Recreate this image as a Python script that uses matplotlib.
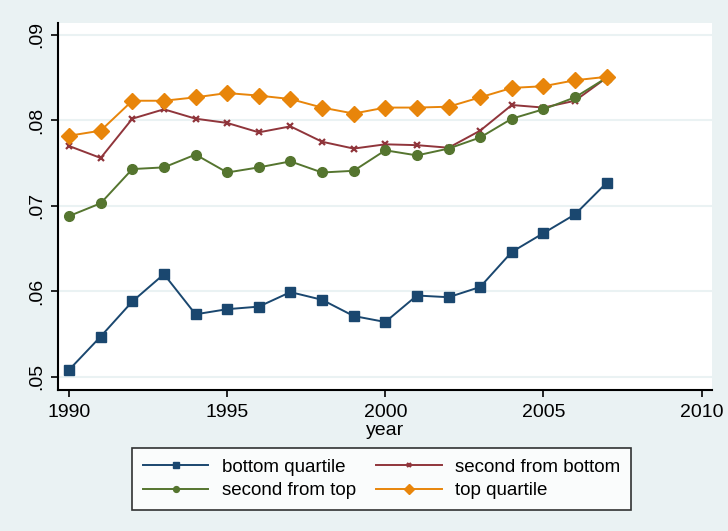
import matplotlib
matplotlib.use("Agg")
import matplotlib.pyplot as plt

years = list(range(1990, 2008))

bottom_quartile = [0.0508, 0.0547, 0.0588, 0.0620, 0.0573, 0.0579, 0.0582, 0.0599, 0.0590,
                   0.0571, 0.0564, 0.0595, 0.0593, 0.0605, 0.0646, 0.0668, 0.0690, 0.0727]
second_bottom = [0.0770, 0.0756, 0.0802, 0.0813, 0.0802, 0.0797, 0.0786, 0.0793, 0.0775,
                 0.0767, 0.0772, 0.0771, 0.0768, 0.0788, 0.0818, 0.0815, 0.0823, 0.0850]
second_top = [0.0688, 0.0703, 0.0743, 0.0745, 0.0760, 0.0739, 0.0745, 0.0752, 0.0739,
              0.0741, 0.0765, 0.0759, 0.0767, 0.0780, 0.0802, 0.0813, 0.0827, 0.0850]
top_quartile = [0.0782, 0.0788, 0.0823, 0.0823, 0.0827, 0.0832, 0.0829, 0.0825, 0.0815,
                0.0808, 0.0815, 0.0815, 0.0816, 0.0827, 0.0838, 0.0840, 0.0847, 0.0851]

xticks = [1990, 1995, 2000, 2005, 2010]
yticks = [0.05, 0.06, 0.07, 0.08, 0.09]
ytick_labels = [".05", ".06", ".07", ".08", ".09"]

bg = "#eaf2f3"
plt.rcParams["font.family"] = ["Liberation Sans", "DejaVu Sans"]

fig = plt.figure(figsize=(7.28, 5.31), dpi=100, facecolor=bg)
ax = fig.add_axes([58 / 728, 1 - 390 / 531, (712 - 58) / 728, (390 - 23) / 531])
ax.set_facecolor("white")

ax.plot(years, bottom_quartile, color="#1a476f", marker="s", ms=6.8, lw=1.4,
        label="bottom quartile")
ax.plot(years, second_bottom, color="#90353b", marker="x", ms=5, mew=1.6, lw=1.4,
        label="second from bottom")
ax.plot(years, second_top, color="#55752f", marker="o", ms=7, lw=1.4,
        label="second from top")
ax.plot(years, top_quartile, color="#e8850a", marker="D", ms=8.3, lw=1.4,
        label="top quartile")

ax.set_xlim(1989.65, 2010.33)
ax.set_ylim(0.04844, 0.0914)
ax.set_xticks(xticks)
ax.set_yticks(yticks)
ax.set_yticklabels(ytick_labels, rotation=90, va="center")
ax.tick_params(axis="both", labelsize=14, length=5, width=1.2, color="black")
ax.tick_params(axis="x", pad=5)
ax.tick_params(axis="y", pad=4)
ax.grid(axis="y", color=bg, lw=1.5)
ax.set_axisbelow(True)

for side in ("top", "right"):
    ax.spines[side].set_visible(False)
for side in ("left", "bottom"):
    ax.spines[side].set_linewidth(1.5)

ax.set_xlabel("year", fontsize=14, labelpad=1)

handles, labels = ax.get_legend_handles_labels()
order = [0, 2, 1, 3]
leg = fig.legend([handles[i] for i in order], [labels[i] for i in order],
                 ncol=2, loc="center", bbox_to_anchor=(381.5 / 728, 1 - 479 / 531),
                 fontsize=13.5, frameon=True, fancybox=False, handlelength=3.5,
                 columnspacing=1.1, labelspacing=0.35, borderpad=0.55,
                 handletextpad=0.7, markerscale=0.6)
leg.get_frame().set_edgecolor("black")
leg.get_frame().set_linewidth(1.2)

fig.savefig("out.png", dpi=100, facecolor=bg)
